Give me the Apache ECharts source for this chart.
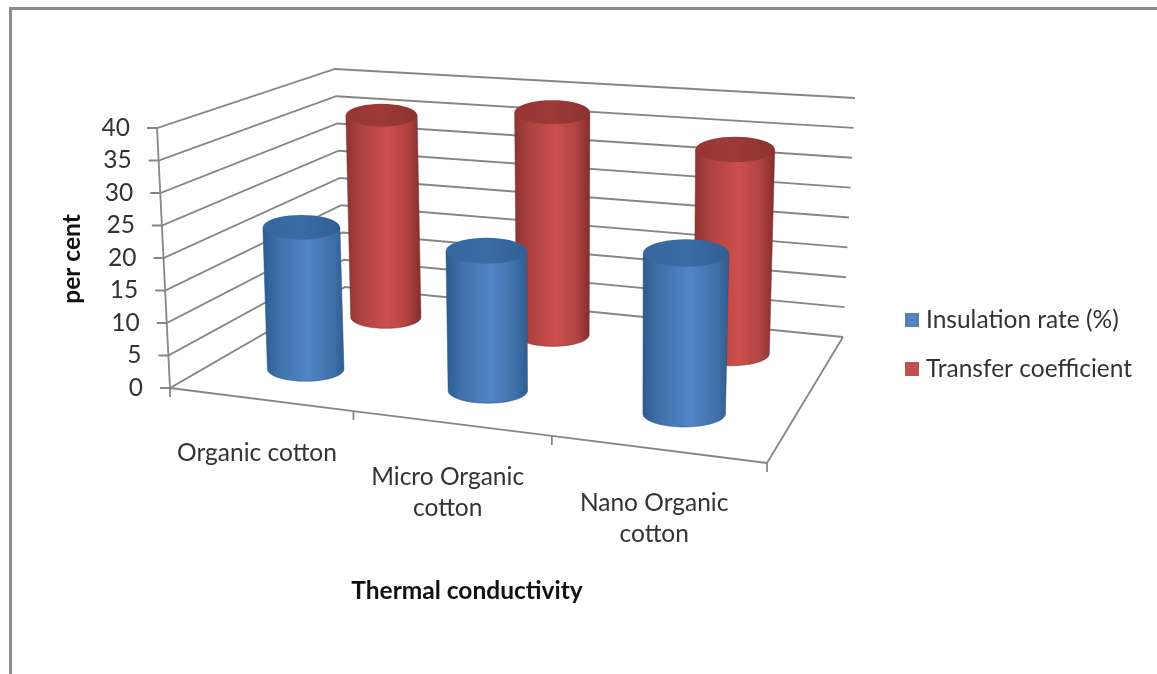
<!DOCTYPE html>
<html>
<head>
<meta charset="utf-8">
<style>
html, body { margin: 0; padding: 0; background: #fff; }
#main { width: 1157px; height: 674px; }
</style>
<script src="https://cdn.jsdelivr.net/npm/echarts@6/dist/echarts.min.js"></script>
</head>
<body>
<div id="main"></div>
<script>
var categories = ['Organic cotton', 'Micro Organic\ncotton', 'Nano Organic\ncotton'];
var insulationRate = [22.5, 21.5, 24];
var transferCoefficient = [35, 37.4, 33.3];
var valueTicks = [0, 5, 10, 15, 20, 25, 30, 35, 40];

// screen corners of the 3d box
var floorQuad = [[170, 388], [767, 463], [843, 337], [345, 287]];
var topQuad = [[157, 128], [777, 178], [855, 98], [335, 69]];
var font = 'Lato';
var fontSize = 24.5;
var lineColor = '#868686';

function homography(q) {
	var dx1 = q[1][0] - q[2][0], dx2 = q[3][0] - q[2][0], sx = q[0][0] - q[1][0] + q[2][0] - q[3][0];
	var dy1 = q[1][1] - q[2][1], dy2 = q[3][1] - q[2][1], sy = q[0][1] - q[1][1] + q[2][1] - q[3][1];
	var d = dx1 * dy2 - dx2 * dy1;
	var g = (sx * dy2 - dx2 * sy) / d, h = (dx1 * sy - sx * dy1) / d;
	return function (u, w) {
		var den = g * u + h * w + 1;
		return [
			((q[1][0] - q[0][0] + g * q[1][0]) * u + (q[3][0] - q[0][0] + h * q[3][0]) * w + q[0][0]) / den,
			((q[1][1] - q[0][1] + g * q[1][1]) * u + (q[3][1] - q[0][1] + h * q[3][1]) * w + q[0][1]) / den
		];
	};
}
var floorH = homography(floorQuad), topH = homography(topQuad);

// u along the categories, w front to back, v 0..1 up the value axis
function project(u, w, v) {
	var a = floorH(u, w), b = topH(u, w);
	return [a[0] + (b[0] - a[0]) * v, a[1] + (b[1] - a[1]) * v];
}
function toUnit(params, api, cat, val) {
	var c = api.coord([cat, val]), r = params.coordSys;
	return { u: (c[0] - r.x) / r.width, v: (r.y + r.height - c[1]) / r.height };
}

function ellipsePts(c, rx, ry, from, to) {
	var pts = [], n = 40;
	for (var i = 0; i <= n; i++) {
		var t = from + (to - from) * i / n;
		pts.push([c[0] + rx * Math.cos(t), c[1] + ry * Math.sin(t)]);
	}
	return pts;
}

// half width on screen, perspective softened towards the middle of the box
function halfWidth(u, depth, v, radius) {
	var here = project(u + radius, depth, v)[0] - project(u - radius, depth, v)[0];
	var mid = project(0.5 + radius, depth, v)[0] - project(0.5 - radius, depth, v)[0];
	return (here + mid) / 4;
}

function cylinderItem(depth, radius, side, cap, rim) {
	return function (params, api) {
		var p = toUnit(params, api, api.value(0), api.value(1));
		var b = project(p.u, depth, 0), t = project(p.u, depth, p.v);
		// columns stay close to upright, they lean much less than the walls
		b[0] -= 1;
		t[0] = b[0] + (b[0] - 580) * (b[1] - t[1]) * 0.00011;
		var rb = halfWidth(p.u, depth, 0, radius);
		var rt = halfWidth(p.u, depth, p.v, radius);
		var body = [[t[0] - rt, t[1]], [t[0] + rt, t[1]]].concat(ellipsePts(b, rb, rb * 0.32, 0, Math.PI));
		return {
			type: 'group',
			children: [{
				type: 'polygon',
				shape: { points: body },
				style: { fill: new echarts.graphic.LinearGradient(0, 0, 1, 0, side), stroke: rim, lineWidth: 1 }
			}, {
				type: 'polygon',
				shape: { points: ellipsePts(t, rt, rt * 0.32, 0, Math.PI * 2) },
				style: { fill: new echarts.graphic.LinearGradient(0, 0, 1, 0, cap) }
			}]
		};
	};
}

var blueSide = [
	{ offset: 0, color: '#2d5a8e' }, { offset: 0.18, color: '#3e6fa8' },
	{ offset: 0.55, color: '#5185c6' }, { offset: 0.85, color: '#3f70a8' }, { offset: 1, color: '#2f5d90' }
];
var blueCap = [{ offset: 0, color: '#35669f' }, { offset: 0.5, color: '#3a6ca6' }, { offset: 1, color: '#315f94' }];
var redSide = [
	{ offset: 0, color: '#8c3331' }, { offset: 0.2, color: '#ad4240' },
	{ offset: 0.55, color: '#cc4f4c' }, { offset: 0.82, color: '#b04341' }, { offset: 1, color: '#822d2b' }
];
var redCap = [{ offset: 0, color: '#963735' }, { offset: 0.5, color: '#9c3a38' }, { offset: 1, color: '#8c3331' }];

function wallItem(params, api) {
	var val = api.value(0);
	var p = toUnit(params, api, 0, val);
	var a = project(0, 0, p.v), b = project(0, 1, p.v), c = project(1, 1, p.v);
	return {
		type: 'group',
		children: [{
			type: 'polyline',
			shape: { points: [[a[0] - 10, a[1]], a, b, c] },
			style: { stroke: lineColor, lineWidth: 1.8, fill: null }
		}, {
			type: 'text',
			style: {
				text: String(val), x: a[0] - 27, y: a[1], align: 'right', verticalAlign: 'middle',
				fontFamily: font, fontSize: fontSize, fill: '#333'
			}
		}]
	};
}

function floorItem(params, api) {
	var i = api.value(0);
	var c = categories.length;
	var start = project(i / c, 0, 0), end = project((i + 1) / c, 0, 0);
	var mid = project((i + 0.5) / c, 0, 0);
	return {
		type: 'group',
		children: [{
			type: 'line',
			shape: { x1: start[0], y1: start[1], x2: end[0], y2: end[1] },
			style: { stroke: lineColor, lineWidth: 1.8 }
		}, {
			type: 'line',
			shape: { x1: end[0], y1: end[1], x2: end[0], y2: end[1] + 9 },
			style: { stroke: lineColor, lineWidth: 1.8 }
		}, {
			type: 'text',
			style: {
				text: categories[i], x: mid[0] - 3, y: mid[1] + 38, align: 'center', verticalAlign: 'top',
				fontFamily: font, fontSize: fontSize, lineHeight: 31, fill: '#333'
			}
		}]
	};
}

var edges = [
	project(0, 0, 1), project(0, 0, 0), [project(0, 0, 0)[0], project(0, 0, 0)[1] + 9]
];
var sideEdge = [project(1, 0, 0), project(1, 1, 0)];

var option = {
	backgroundColor: '#fff',
	animation: false,
	grid: { left: 0, right: 0, top: 0, bottom: 0 },
	xAxis: { type: 'category', data: categories, show: false },
	yAxis: { type: 'value', min: 0, max: 40, interval: 5, show: false },
	legend: {
		orient: 'vertical',
		left: 905,
		top: 305,
		padding: 0,
		itemWidth: 14,
		itemHeight: 14,
		itemGap: 19,
		icon: 'rect',
		data: ['Insulation rate (%)', 'Transfer coefficient'],
		selectedMode: false,
		textStyle: { fontFamily: font, fontSize: fontSize, lineHeight: 30, color: '#333', padding: [0, 0, 0, 2] }
	},
	graphic: [
		{ type: 'polyline', silent: true, shape: { points: [[10.5, 680], [10.5, 8.5], [1160, 8.5]] }, style: { stroke: '#8c8c8c', lineWidth: 3, fill: null } },
		{ type: 'polyline', silent: true, shape: { points: edges }, style: { stroke: lineColor, lineWidth: 1.8, fill: null } },
		{ type: 'polyline', silent: true, shape: { points: sideEdge }, style: { stroke: lineColor, lineWidth: 1.8, fill: null } },
		{ type: 'text', x: 72, y: 259, rotation: Math.PI / 2, style: { text: 'per cent', align: 'center', verticalAlign: 'middle', fontFamily: font, fontWeight: 'bold', fontSize: fontSize, fill: '#111' } },
		{ type: 'text', x: 467, y: 591, style: { text: 'Thermal conductivity', align: 'center', verticalAlign: 'middle', fontFamily: font, fontWeight: 'bold', fontSize: fontSize, fill: '#111' } }
	],
	series: [{
		type: 'custom',
		name: 'walls',
		z: 1,
		silent: true,
		data: valueTicks.map(function (v) { return [v]; }),
		renderItem: wallItem,
		encode: { y: 0 }
	}, {
		type: 'custom',
		name: 'floor',
		z: 1,
		silent: true,
		data: categories.map(function (c, i) { return [i]; }),
		renderItem: floorItem,
		encode: { x: 0 }
	}, {
		type: 'custom',
		name: 'Transfer coefficient',
		z: 3,
		data: transferCoefficient.map(function (v, i) { return [i, v]; }),
		itemStyle: { color: '#c0504d' },
		renderItem: cylinderItem(0.75, 0.07, redSide, redCap, 'rgba(120,40,40,0.5)'),
		encode: { x: 0, y: 1 }
	}, {
		type: 'custom',
		name: 'Insulation rate (%)',
		z: 4,
		data: insulationRate.map(function (v, i) { return [i, v]; }),
		itemStyle: { color: '#4f81bd' },
		renderItem: cylinderItem(0.25, 0.07, blueSide, blueCap, 'rgba(40,80,130,0.5)'),
		encode: { x: 0, y: 1 }
	}]
};

var chart = echarts.init(document.getElementById('main'));
chart.setOption(option);
</script>
</body>
</html>
